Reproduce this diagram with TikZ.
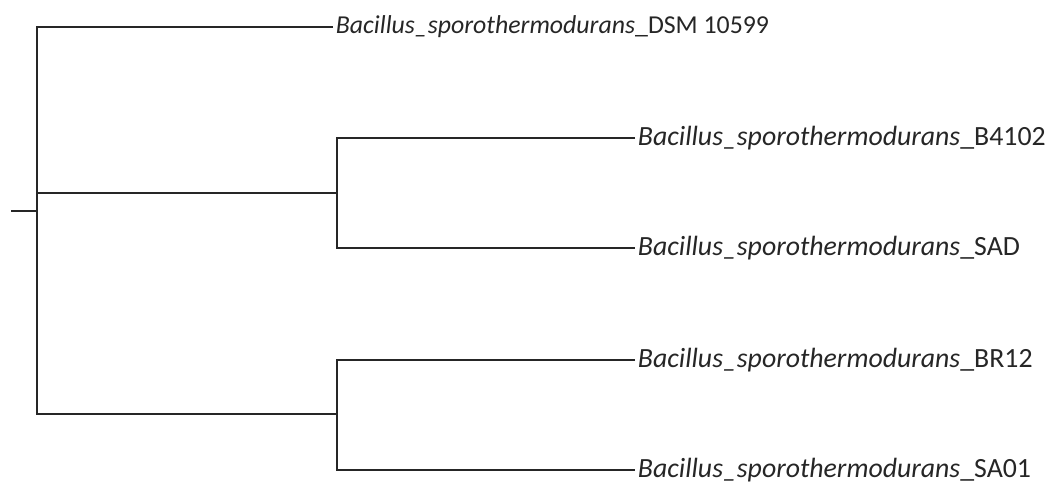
\documentclass[tikz,border=0pt]{standalone}
\usepackage{fontspec}
\setmainfont{Carlito}
\tikzset{leaf/.style={anchor=west,inner sep=2pt,text=black!85,font=\fontsize{27.8}{32}\selectfont},
  topleaf/.style={leaf,font=\fontsize{25.8}{30}\selectfont}}
\newcommand{\bsp}{\textit{Bacillus\_sporothermodurans}\_}
\begin{document}
\begin{tikzpicture}[x=1pt,y=-1pt,line width=1.8pt,black!85]
\useasboundingbox (0,0) rectangle (1048,483);
\coordinate (stub) at (11,211);
\coordinate (root) at (37,211);
\coordinate (mid) at (337,193);
\coordinate (low) at (337,414);
\node[topleaf] (dsm) at (333,27) {\bsp DSM 10599};
\node[leaf] (b4102) at (635,138) {\bsp B4102};
\node[leaf] (sad) at (635,248) {\bsp SAD};
\node[leaf] (br12) at (635,360) {\bsp BR12};
\node[leaf] (sa01) at (635,470) {\bsp SA01};
\draw (stub)--(root);
\draw (dsm.west) -| (root) |- (low);
\draw (root) |- (mid);
\draw (b4102.west) -| (mid) |- (sad.west);
\draw (br12.west) -| (low) |- (sa01.west);
\end{tikzpicture}
\end{document}
